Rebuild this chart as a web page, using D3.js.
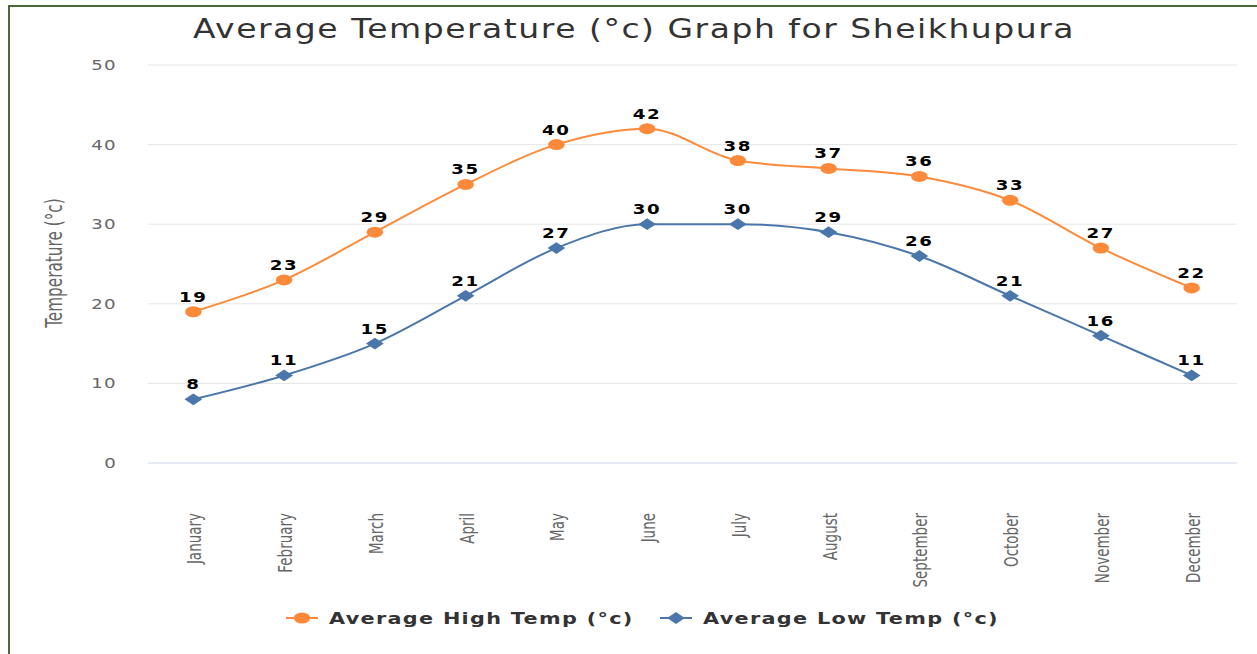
<!DOCTYPE html>
<html lang="en">
<head>
  <meta charset="UTF-8">
  <title>Average Temperature Sheikhupura</title>
  <script src="https://d3js.org/d3.v7.min.js"></script>
  <style>
    html, body { margin: 0; padding: 0; background: #fff; }
    svg { display: block; }
    .title { font: 26px "DejaVu Sans", Verdana, sans-serif; fill: #333; letter-spacing: 1.2px; }
    .ytick text { font: 14px "DejaVu Sans", Verdana, sans-serif; fill: #666; letter-spacing: 1px; }
    .xtick text { font: 15px "Liberation Sans Narrow", "DejaVu Sans Condensed", sans-serif; fill: #666; }
    .ytitle { font: 17px "Liberation Sans Narrow", "DejaVu Sans Condensed", sans-serif; fill: #666; }
    .dlabel { font: bold 14px "DejaVu Sans", Verdana, sans-serif; fill: #000; letter-spacing: 1.3px; }
    .legend text { font: bold 16px "DejaVu Sans", Verdana, sans-serif; fill: #333; letter-spacing: 1px; }
  </style>
</head>
<body>
  <svg id="chart" width="1257" height="654"></svg>
  <script>
    // Data
    const months = ["January", "February", "March", "April", "May", "June",
                    "July", "August", "September", "October", "November", "December"];
    const highTemps = [19, 23, 29, 35, 40, 42, 38, 37, 36, 33, 27, 22];
    const lowTemps = [8, 11, 15, 21, 27, 30, 30, 29, 26, 21, 16, 11];
    const yTicks = [0, 10, 20, 30, 40, 50];
    const seriesNames = ["Average High Temp (°c)", "Average Low Temp (°c)"];

    const orange = "#fd8a3a";
    const blue = "#4a76ab";
    // the reference picture is stretched sideways, so text and markers are too
    const sx = 1.3;

    const svg = d3.select("#chart");

    // frame
    svg.append("path")
      .attr("d", "M9,654 V6 H1257")
      .attr("fill", "none")
      .attr("stroke", "#4b6b35")
      .attr("stroke-width", 2);

    const x = d3.scaleBand().domain(months).range([148, 1237]);
    const y = d3.scaleLinear().domain([0, 50]).range([463, 65]);
    const cx = d => x(d) + x.bandwidth() / 2;

    // title
    svg.append("text")
      .attr("class", "title")
      .attr("transform", `translate(634,38) scale(${1.27},1)`)
      .attr("text-anchor", "middle")
      .text("Average Temperature (°c) Graph for Sheikhupura");

    // grid + y labels
    const yt = svg.append("g").selectAll("g")
      .data(yTicks).enter().append("g")
      .attr("class", "ytick");
    yt.append("line")
      .attr("x1", 148).attr("x2", 1237)
      .attr("y1", d => y(d)).attr("y2", d => y(d))
      .attr("stroke", d => d === 0 ? "#ccd6eb" : "#e6e6e6")
      .attr("stroke-width", 1);
    yt.append("text")
      .attr("transform", d => `translate(117,${y(d) + 5}) scale(${sx},1)`)
      .attr("text-anchor", "end")
      .text(d => d);

    // y title
    svg.append("text")
      .attr("class", "ytitle")
      .attr("transform", `translate(62,263) rotate(-90) scale(1,${sx})`)
      .attr("text-anchor", "middle")
      .text("Temperature (°c)");

    // x labels
    svg.append("g").selectAll("text")
      .data(months).enter().append("g")
      .attr("class", "xtick")
      .append("text")
      .attr("transform", d => `translate(${cx(d) + 8},513) rotate(-90) scale(1,${sx})`)
      .attr("text-anchor", "end")
      .text(d => d);

    const line = d3.line()
      .x((d, i) => cx(months[i]))
      .y(d => y(d))
      .curve(d3.curveMonotoneX);

    const circleMark = d3.symbol().type(d3.symbolCircle).size(95);
    const diamondMark = d3.symbol().type(d3.symbolSquare).size(70);
    const markTransform = (isDiamond) => isDiamond ? ` scale(1.5,1) rotate(45)` : ` scale(1.5,1)`;

    function drawSeries(values, color, isDiamond) {
      const g = svg.append("g");
      g.append("path")
        .attr("d", line(values))
        .attr("fill", "none")
        .attr("stroke", color)
        .attr("stroke-width", 2);
      g.selectAll("path.m")
        .data(values).enter().append("path")
        .attr("class", "m")
        .attr("transform", (d, i) => `translate(${cx(months[i])},${y(d)})` + markTransform(isDiamond))
        .attr("d", isDiamond ? diamondMark() : circleMark())
        .attr("fill", color);
      g.selectAll("text")
        .data(values).enter().append("text")
        .attr("class", "dlabel")
        .attr("transform", (d, i) => `translate(${cx(months[i])},${y(d) - 10}) scale(${sx},1)`)
        .attr("text-anchor", "middle")
        .text(d => d);
    }

    drawSeries(highTemps, orange, false);
    drawSeries(lowTemps, blue, true);

    // legend
    const legendX = [286, 660];
    const legendColors = [orange, blue];
    const lg = svg.append("g").attr("class", "legend").selectAll("g")
      .data(seriesNames).enter().append("g")
      .attr("transform", (d, i) => `translate(${legendX[i]},618)`);
    lg.append("line")
      .attr("x1", 0).attr("x2", 32)
      .attr("stroke", (d, i) => legendColors[i])
      .attr("stroke-width", 2);
    lg.append("path")
      .attr("transform", (d, i) => "translate(16,0)" + markTransform(i === 1))
      .attr("d", (d, i) => i === 1 ? diamondMark() : circleMark())
      .attr("fill", (d, i) => legendColors[i]);
    lg.append("text")
      .attr("transform", `translate(43,6) scale(${sx},1)`)
      .text(d => d);
  </script>
</body>
</html>
